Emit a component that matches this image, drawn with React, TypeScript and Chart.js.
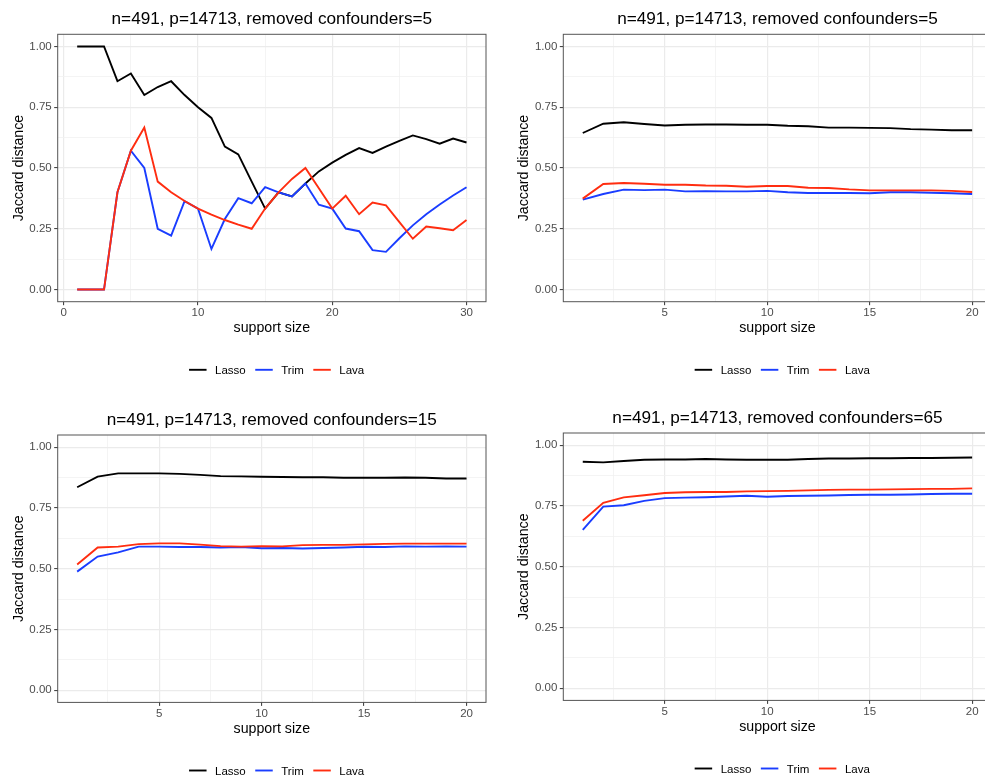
import React, { useEffect, useRef } from "react";
import { Chart, registerables } from "chart.js";

Chart.register(...registerables);

const FONT = "'Liberation Sans', Arial, Helvetica, sans-serif";

// ---------- text ----------
const titles = [
  "n=491, p=14713, removed confounders=5",
  "n=491, p=14713, removed confounders=5",
  "n=491, p=14713, removed confounders=15",
  "n=491, p=14713, removed confounders=65",
];
const methods = ["Lasso", "Trim", "Lava"];
const colors = ["#000000", "#1a3dff", "#ff2d10"];
const xTitle = "support size";
const yTitle = "Jaccard distance";

// ---------- axes ----------
const sizesA = [1, 2, 3, 4, 5, 6, 7, 8, 9, 10, 11, 12, 13, 14, 15, 16, 17, 18, 19, 20, 21, 22, 23, 24, 25, 26, 27, 28, 29, 30];
const sizesB = [1, 2, 3, 4, 5, 6, 7, 8, 9, 10, 11, 12, 13, 14, 15, 16, 17, 18, 19, 20];
const yTicks = [0, 0.25, 0.5, 0.75, 1];
const yMinor = [0.125, 0.375, 0.625, 0.875];
const xTicksA = [0, 10, 20, 30];
const xMinorA = [5, 15, 25];
const xTicksB = [5, 10, 15, 20];
const xMinorB = [2.5, 7.5, 12.5, 17.5];

// ---------- series ----------
const lassoA = [1, 1, 1, 0.857, 0.889, 0.8, 0.833, 0.857, 0.8, 0.75, 0.706, 0.588, 0.556, 0.444, 0.333, 0.4, 0.383, 0.436, 0.486, 0.522, 0.554, 0.582, 0.562, 0.588, 0.612, 0.634, 0.619, 0.6, 0.621, 0.605];
const trimA = [0, 0, 0, 0.4, 0.571, 0.5, 0.25, 0.222, 0.364, 0.333, 0.167, 0.29, 0.376, 0.355, 0.421, 0.4, 0.383, 0.436, 0.349, 0.333, 0.251, 0.24, 0.162, 0.155, 0.211, 0.264, 0.31, 0.35, 0.387, 0.421];
const lavaA = [0, 0, 0, 0.4, 0.571, 0.667, 0.444, 0.4, 0.364, 0.333, 0.308, 0.286, 0.267, 0.25, 0.333, 0.4, 0.455, 0.5, 0.417, 0.333, 0.386, 0.31, 0.358, 0.346, 0.277, 0.209, 0.259, 0.252, 0.244, 0.286];

const lassoB = [0.644, 0.682, 0.688, 0.681, 0.675, 0.678, 0.679, 0.679, 0.678, 0.678, 0.674, 0.672, 0.666, 0.666, 0.665, 0.664, 0.66, 0.658, 0.655, 0.655];
const trimB = [0.37, 0.393, 0.411, 0.409, 0.411, 0.404, 0.405, 0.404, 0.404, 0.406, 0.4, 0.397, 0.397, 0.397, 0.396, 0.4, 0.4, 0.398, 0.396, 0.393];
const lavaB = [0.374, 0.434, 0.438, 0.435, 0.431, 0.431, 0.428, 0.427, 0.423, 0.426, 0.426, 0.419, 0.418, 0.412, 0.408, 0.408, 0.408, 0.408, 0.406, 0.401];

const lassoC = [0.835, 0.879, 0.892, 0.892, 0.892, 0.89, 0.886, 0.881, 0.88, 0.878, 0.877, 0.876, 0.876, 0.874, 0.874, 0.874, 0.875, 0.874, 0.871, 0.871];
const trimC = [0.488, 0.55, 0.567, 0.591, 0.591, 0.589, 0.589, 0.587, 0.589, 0.584, 0.585, 0.583, 0.585, 0.587, 0.59, 0.589, 0.592, 0.591, 0.592, 0.591];
const lavaC = [0.517, 0.587, 0.591, 0.601, 0.604, 0.604, 0.599, 0.593, 0.591, 0.593, 0.592, 0.597, 0.598, 0.598, 0.6, 0.602, 0.603, 0.603, 0.603, 0.603];

const lassoD = [0.932, 0.929, 0.935, 0.94, 0.941, 0.941, 0.943, 0.941, 0.94, 0.94, 0.94, 0.943, 0.945, 0.945, 0.946, 0.946, 0.947, 0.947, 0.948, 0.949];
const trimD = [0.651, 0.747, 0.753, 0.771, 0.782, 0.784, 0.786, 0.789, 0.792, 0.788, 0.791, 0.792, 0.793, 0.795, 0.796, 0.796, 0.797, 0.799, 0.8, 0.8];
const lavaD = [0.689, 0.763, 0.785, 0.794, 0.803, 0.806, 0.807, 0.807, 0.81, 0.811, 0.812, 0.814, 0.816, 0.817, 0.817, 0.818, 0.819, 0.82, 0.82, 0.822];

// ---------- layout ----------
const CW = 506;
const CH = 389;
const XH = 40;

type PanelCfg = {
  title: string;
  sizes: number[];
  series: number[][];
  xMin: number;
  xMax: number;
  xMajor: number[];
  xMinor: number[];
  left: number;
  top: number;
  sx: number;
  sy: number;
};

const panels: PanelCfg[] = [
  { title: titles[0], sizes: sizesA, series: [lassoA, trimA, lavaA], xMin: -0.45, xMax: 31.45, xMajor: xTicksA, xMinor: xMinorA, left: 0, top: 0, sx: 0, sy: 0 },
  { title: titles[1], sizes: sizesB, series: [lassoB, trimB, lavaB], xMin: 0.05, xMax: 20.95, xMajor: xTicksB, xMinor: xMinorB, left: 505, top: 0, sx: 0.6, sy: 0 },
  { title: titles[2], sizes: sizesB, series: [lassoC, trimC, lavaC], xMin: 0.05, xMax: 20.95, xMajor: xTicksB, xMinor: xMinorB, left: 0, top: 400, sx: 0, sy: 0.7 },
  { title: titles[3], sizes: sizesB, series: [lassoD, trimD, lavaD], xMin: 0.05, xMax: 20.95, xMajor: xTicksB, xMinor: xMinorB, left: 505, top: 398, sx: 0.6, sy: 0.7 },
];

const ggPlugin = {
  id: "gg",
  afterDatasetsDraw(chart: any) {
    const { ctx, chartArea: a } = chart;
    ctx.save();
    ctx.strokeStyle = "#555555";
    ctx.lineWidth = 1;
    ctx.strokeRect(a.left, a.top, a.right - a.left, a.bottom - a.top);
    ctx.restore();
  },
  afterDraw(chart: any, _args: any, opts: any) {
    const { ctx, chartArea: a } = chart;
    const cx = (a.left + a.right) / 2;
    ctx.save();
    // title
    ctx.font = `17.2px ${FONT}`;
    ctx.fillStyle = "#000000";
    ctx.textAlign = "center";
    ctx.textBaseline = "alphabetic";
    ctx.fillText(opts.title, cx, a.top - 10.3);
    // legend
    ctx.font = `11.5px ${FONT}`;
    const keyW = 17.5;
    const gapKT = 8.5;
    const gapTK = 9.5;
    const widths = methods.map((m) => ctx.measureText(m).width);
    const total = methods.length * (keyW + gapKT) + widths.reduce((s, w) => s + w, 0) + (methods.length - 1) * gapTK;
    let x = cx + 4.8 - total / 2;
    const ly = a.bottom + 68.1;
    const ty = a.bottom + 72.5;
    ctx.textAlign = "left";
    methods.forEach((m, i) => {
      ctx.strokeStyle = colors[i];
      ctx.lineWidth = 1.9;
      ctx.lineCap = "butt";
      ctx.beginPath();
      ctx.moveTo(x, ly);
      ctx.lineTo(x + keyW, ly);
      ctx.stroke();
      x += keyW + gapKT;
      ctx.fillStyle = "#000000";
      ctx.fillText(m, x, ty);
      x += widths[i] + gapTK;
    });
    ctx.restore();
  },
};

function Panel({ cfg }: { cfg: PanelCfg }) {
  const ref = useRef<HTMLCanvasElement>(null);
  useEffect(() => {
    const canvas = ref.current;
    if (!canvas) return;
    const areaLeft = 57.7 + cfg.sx;
    const areaTop = 34.3 + cfg.sy;
    const areaRight = 486 + cfg.sx;
    const areaBottom = 301.7 + cfg.sy;
    const yAll = [...yTicks, ...yMinor].sort((p, q) => p - q);
    const xAll = [...cfg.xMajor, ...cfg.xMinor].sort((p, q) => p - q);
    const isMajorY = (v: number) => yTicks.includes(v);
    const isMajorX = (v: number) => cfg.xMajor.includes(v);

    const datasets = methods.map((m, i) => ({
      label: m,
      data: cfg.sizes.map((s, k) => ({ x: s, y: cfg.series[i][k] })),
      borderColor: colors[i],
      backgroundColor: colors[i],
      borderWidth: 1.9,
      pointRadius: 0,
      tension: 0,
      fill: false,
      order: methods.length - i,
    }));

    const chart = new Chart(canvas, {
      type: "line",
      data: { datasets },
      plugins: [ggPlugin],
      options: {
        responsive: false,
        animation: false,
        devicePixelRatio: 1,
        layout: {
          padding: {
            left: 0,
            top: areaTop,
            right: CW - areaRight,
            bottom: CH - areaBottom - XH,
          },
        },
        plugins: {
          legend: { display: false },
          tooltip: { enabled: false },
          title: { display: false },
          gg: { title: cfg.title },
        } as any,
        scales: {
          x: {
            type: "linear",
            min: cfg.xMin,
            max: cfg.xMax,
            afterBuildTicks: (s: any) => {
              s.ticks = xAll.map((v) => ({ value: v }));
            },
            afterFit: (s: any) => {
              s.height = XH;
            },
            ticks: {
              autoSkip: false,
              maxRotation: 0,
              minRotation: 0,
              padding: 1,
              color: "#4d4d4d",
              font: { family: FONT, size: 11.5 },
              callback: (v: any) => (isMajorX(Number(v)) ? String(v) : ""),
            },
            grid: {
              color: (c: any) => (c.tick && isMajorX(c.tick.value) ? "#ebebeb" : "#f1f1f1"),
              lineWidth: (c: any) => (c.tick && isMajorX(c.tick.value) ? 1.2 : 0.8),
              tickColor: (c: any) => (c.tick && isMajorX(c.tick.value) ? "#333333" : "rgba(0,0,0,0)"),
              tickWidth: 1,
              tickLength: 3.5,
              drawTicks: true,
            },
            border: { display: false },
            title: {
              display: true,
              text: xTitle,
              color: "#000000",
              font: { family: FONT, size: 14.2 },
              padding: { top: 0, bottom: 5 },
            },
          },
          y: {
            type: "linear",
            min: -0.05,
            max: 1.05,
            afterBuildTicks: (s: any) => {
              s.ticks = yAll.map((v) => ({ value: v }));
            },
            afterFit: (s: any) => {
              s.width = areaLeft;
            },
            ticks: {
              autoSkip: false,
              padding: 2.5,
              color: "#4d4d4d",
              font: { family: FONT, size: 11.5 },
              callback: (v: any) => (isMajorY(Number(v)) ? Number(v).toFixed(2) : ""),
            },
            grid: {
              color: (c: any) => (c.tick && isMajorY(c.tick.value) ? "#ebebeb" : "#f1f1f1"),
              lineWidth: (c: any) => (c.tick && isMajorY(c.tick.value) ? 1.2 : 0.8),
              tickColor: (c: any) => (c.tick && isMajorY(c.tick.value) ? "#333333" : "rgba(0,0,0,0)"),
              tickWidth: 1,
              tickLength: 3.5,
              drawTicks: true,
            },
            border: { display: false },
            title: {
              display: true,
              text: yTitle,
              color: "#000000",
              font: { family: FONT, size: 14.2 },
              padding: { top: 10.5, bottom: 0 },
            },
          },
        },
      } as any,
    });
    return () => chart.destroy();
  }, [cfg]);

  return (
    <canvas
      ref={ref}
      width={CW}
      height={CH}
      style={{ position: "absolute", left: cfg.left, top: cfg.top, width: CW, height: CH, display: "block" }}
    />
  );
}

export default function App() {
  return (
    <div
      style={{
        position: "fixed",
        left: 0,
        top: 0,
        width: 985,
        height: 778,
        overflow: "hidden",
        background: "#ffffff",
      }}
    >
      {panels.map((p, i) => (
        <Panel key={i} cfg={p} />
      ))}
    </div>
  );
}
